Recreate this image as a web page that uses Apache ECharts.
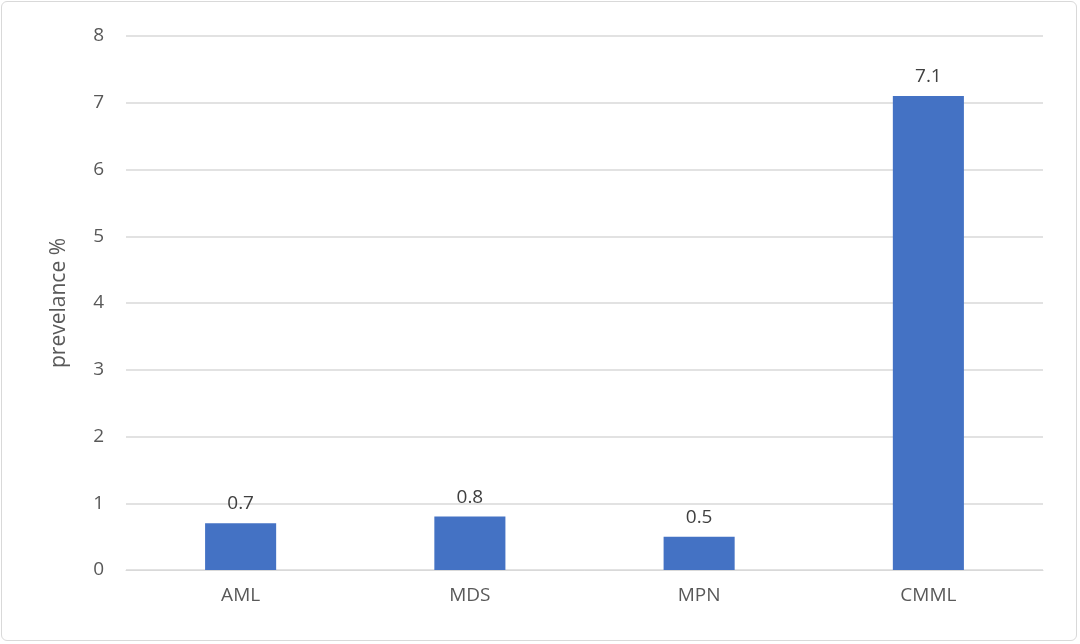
<!DOCTYPE html>
<html><head><meta charset="utf-8">
<script src="https://cdn.jsdelivr.net/npm/echarts@6/dist/echarts.min.js"></script>
<style>html,body{margin:0;padding:0;background:#fff}
#c{position:absolute;left:1px;top:1px;width:1076px;height:640px;border:1px solid #d9d9d9;border-radius:6px;box-sizing:border-box}</style>
</head><body><div id="c"></div>
<script>
const categories=['AML','MDS','MPN','CMML'];
const values=[0.7,0.8,0.5,7.1];
const yTitle='prevelance %';
const chart=echarts.init(document.getElementById('c'));
chart.setOption({
  animation:false,
  grid:{left:124,right:33,top:34,bottom:70},
  xAxis:{type:'category',data:categories,
    axisLine:{lineStyle:{color:'#d9d9d9'}},axisTick:{show:false},
    axisLabel:{color:'#595959',fontSize:19,fontFamily:'Open Sans',margin:16}},
  yAxis:{type:'value',min:0,max:8,interval:1,name:yTitle,nameLocation:'middle',nameGap:56,
    nameTextStyle:{color:'#595959',fontSize:21,fontFamily:'Open Sans'},
    axisLine:{show:false},axisTick:{show:false},
    axisLabel:{color:'#595959',fontSize:19,fontFamily:'Open Sans',margin:22},
    splitLine:{lineStyle:{color:'#d9d9d9',width:1.5}}},
  series:[{type:'bar',data:values,barWidth:'31%',itemStyle:{color:'#4472C4'},
    label:{show:true,position:'top',color:'#404040',fontSize:19,fontFamily:'Open Sans',distance:10}}]
});
</script></body></html>
